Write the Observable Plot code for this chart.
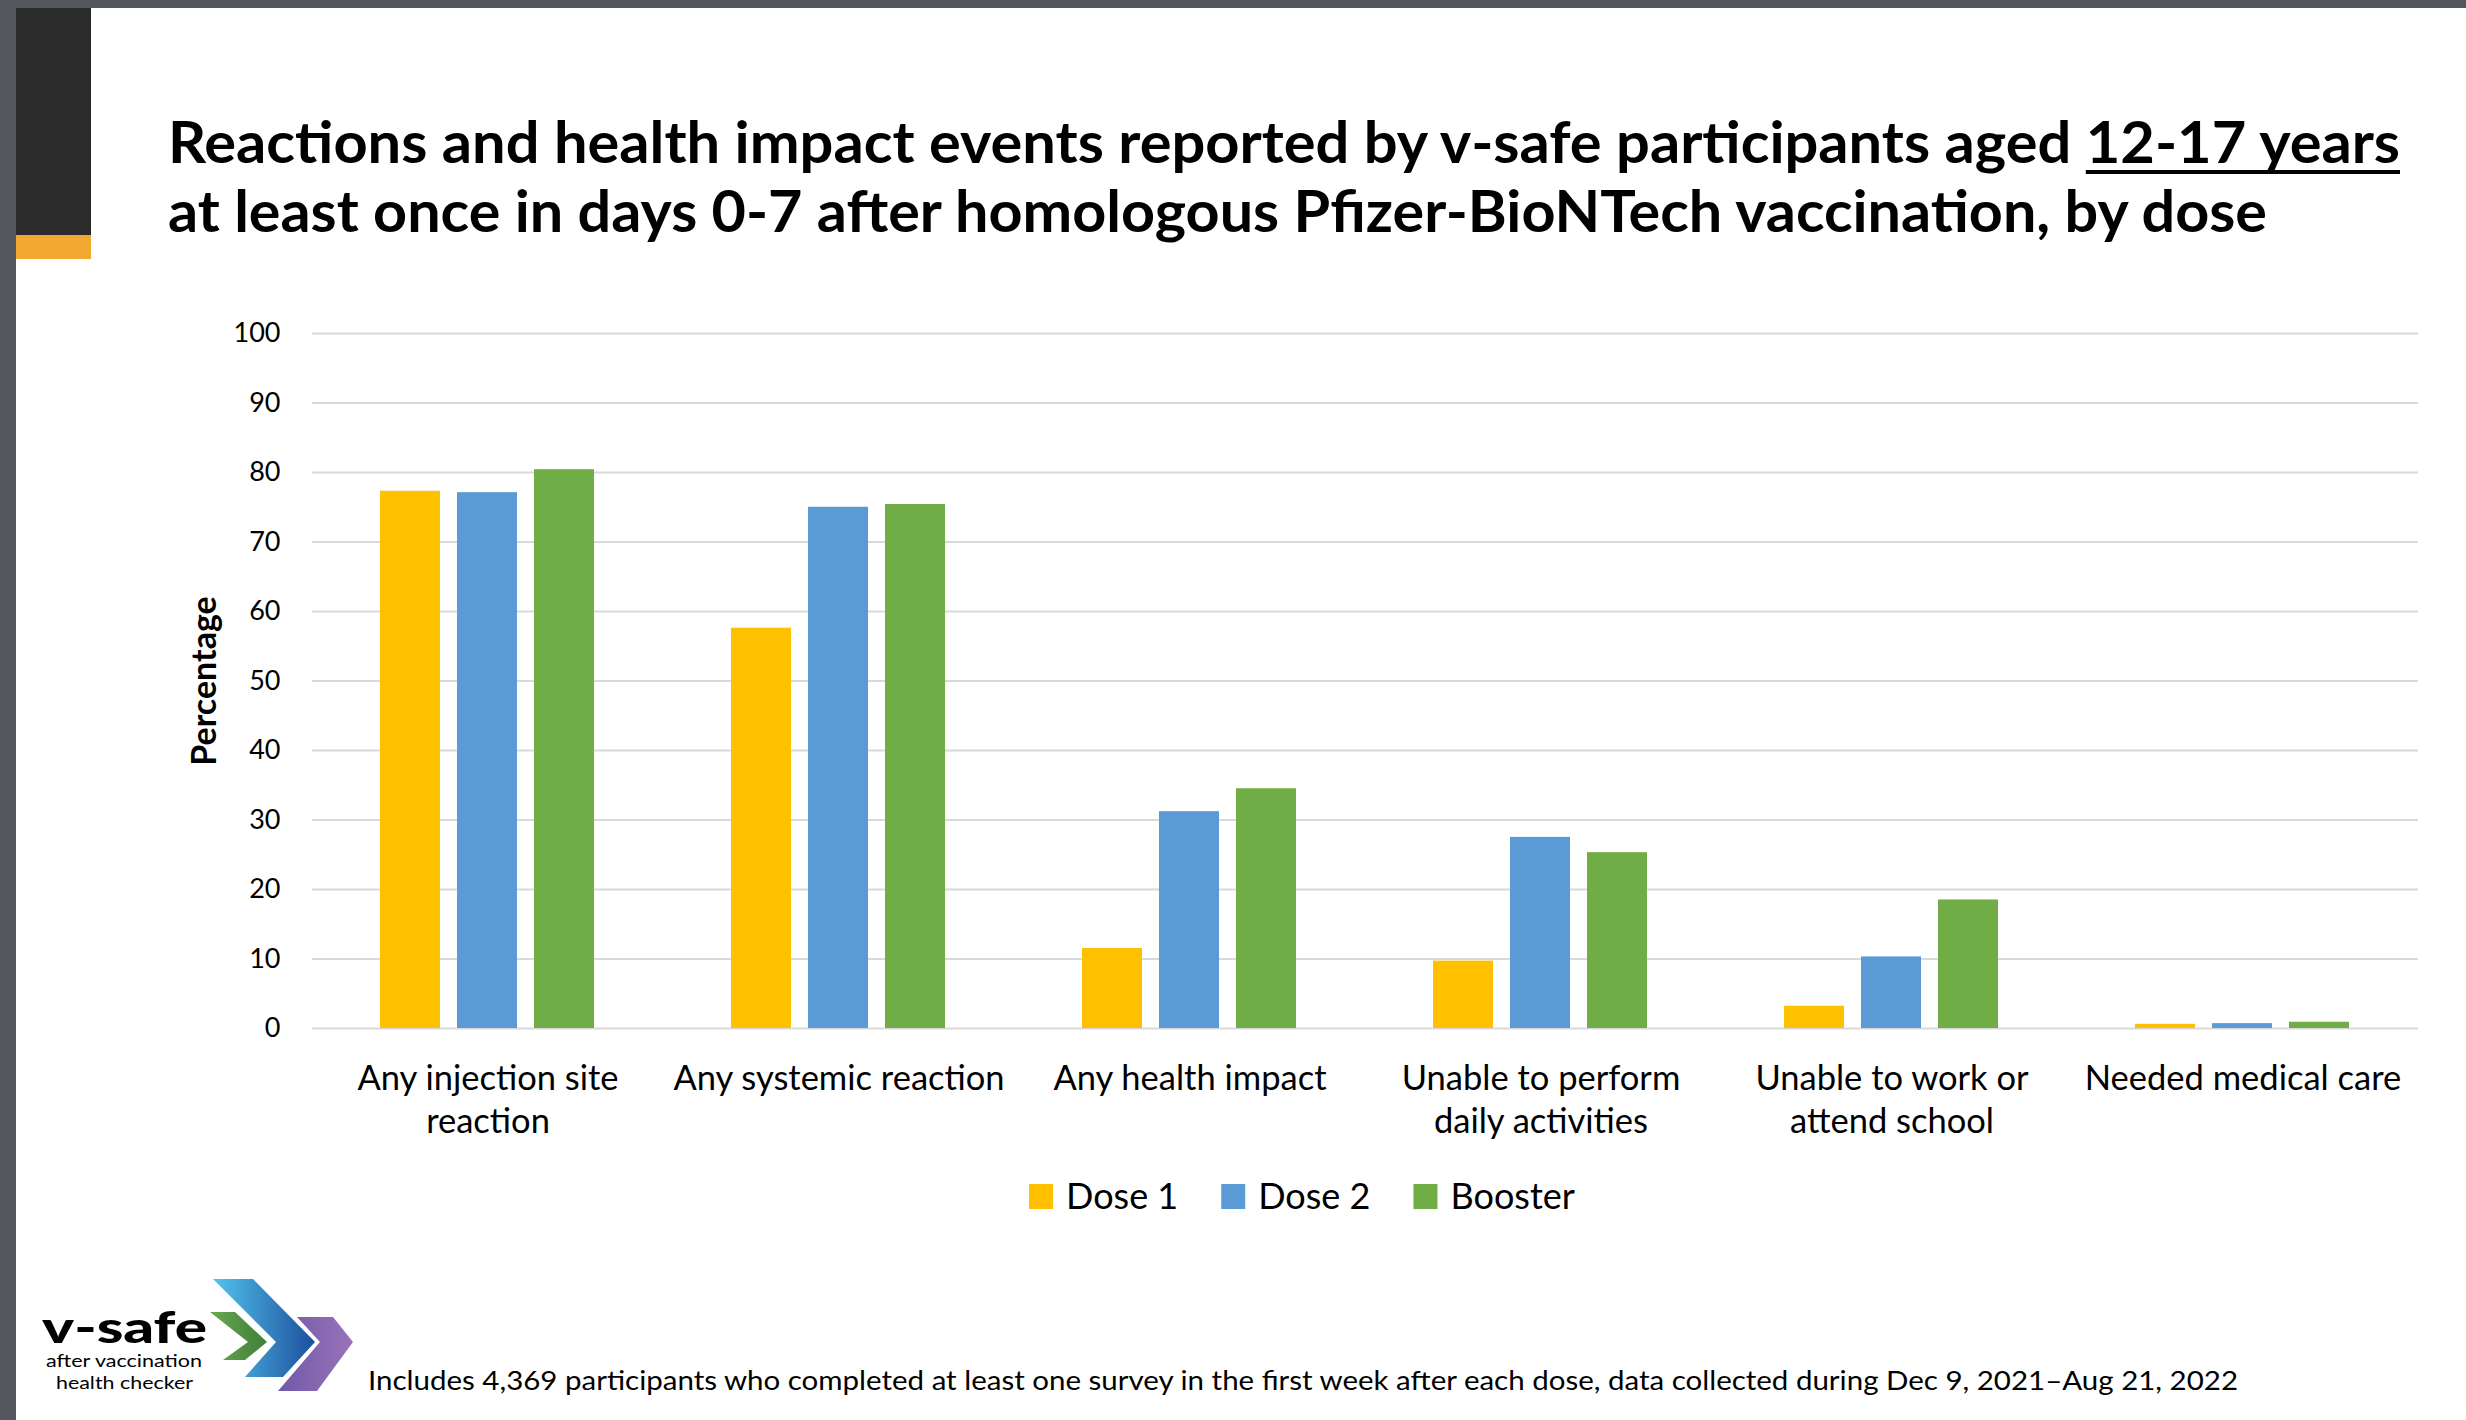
<!DOCTYPE html>
<html><head><meta charset="utf-8">
<script src="https://cdn.jsdelivr.net/npm/d3@7"></script>
<script src="https://cdn.jsdelivr.net/npm/@observablehq/plot@0.6"></script>
<style>
html,body{margin:0;padding:0;background:#fff;}
#page{position:relative;width:2466px;height:1420px;overflow:hidden;background:#fff;font-family:Lato,sans-serif;}
#deco{position:absolute;left:0;top:0;}
#chart{position:absolute;left:0;top:280px;}
</style></head>
<body>
<div id="page">
<svg id="deco" width="2466" height="1420" xmlns="http://www.w3.org/2000/svg"></svg>
<div id="chart"></div>
</div>
<script>
// ---- data ----
const categories = [
  "Any injection site reaction",
  "Any systemic reaction",
  "Any health impact",
  "Unable to perform daily activities",
  "Unable to work or attend school",
  "Needed medical care"
];
const tickLabels = [
  "Any injection site\nreaction",
  "Any systemic reaction",
  "Any health impact",
  "Unable to perform\ndaily activities",
  "Unable to work or\nattend school",
  "Needed medical care"
];
const doses = ["Dose 1", "Dose 2", "Booster"];
const dose1 = [77.3, 57.6, 11.5, 9.7, 3.2, 0.6];
const dose2 = [77.1, 75.0, 31.2, 27.5, 10.3, 0.7];
const booster = [80.4, 75.4, 34.5, 25.3, 18.5, 0.9];
const yTicks = [0, 10, 20, 30, 40, 50, 60, 70, 80, 90, 100];
const colors = ["#FFC000", "#5B9BD5", "#70AD47"];
const titleLine1 = "Reactions and health impact events reported by v-safe participants aged ";
const titleUnderlined = "12-17 years";
const titleLine2 = "at least once in days 0-7 after homologous Pfizer-BioNTech vaccination, by dose";
const yLabel = "Percentage";
const footnote = "Includes 4,369 participants who completed at least one survey in the first week after each dose, data collected during Dec 9, 2021\u2013Aug 21, 2022";

// ---- chart ----
const series = [dose1, dose2, booster];
const data = categories.flatMap((c, i) => doses.map((d, j) => ({category: c, dose: d, value: series[j][i]})));

const chart = Plot.plot({
  width: 2466,
  height: 870,
  marginLeft: 310,
  marginRight: 47,
  marginTop: 53,
  marginBottom: 122,
  style: {fontFamily: "Lato, sans-serif", color: "#000", background: "transparent", overflow: "visible"},
  fx: {domain: categories, padding: 0, label: null, axis: null},
  x: {domain: doses, paddingInner: 0.216, paddingOuter: 0.867, axis: null},
  y: {domain: [0, 100], axis: null},
  color: {domain: doses, range: colors},
  marks: [
    Plot.gridY(yTicks, {stroke: "#d9d9d9", strokeOpacity: 1, strokeWidth: 2}),
    Plot.barY(data, {fx: "category", x: "dose", y: "value", fill: "dose"}),
    Plot.axisY(yTicks, {anchor: "left", tickSize: 0, tickPadding: 32, fontSize: 27, label: null, fill: "#000"}),
    Plot.text(categories, {fx: d => d, text: d => tickLabels[categories.indexOf(d)],
      frameAnchor: "bottom", lineAnchor: "top", textAnchor: "middle", dy: 31,
      lineHeight: 1.24, fontSize: 34.5, fill: "#000"}),
    Plot.text([yLabel], {frameAnchor: "left", facetAnchor: "left", rotate: -90, dx: -107,
      textAnchor: "middle", lineAnchor: "middle",
      fontSize: 34, fontWeight: "bold", fill: "#000"})
  ]
});
document.getElementById("chart").appendChild(chart);

// ---- decorations, title, legend, footnote ----
const NS = "http://www.w3.org/2000/svg";
const deco = document.getElementById("deco");
function el(tag, attrs, parent = deco) {
  const e = document.createElementNS(NS, tag);
  for (const k in attrs) e.setAttribute(k, attrs[k]);
  parent.appendChild(e);
  return e;
}
// frame
el("rect", {x: 0, y: 0, width: 2466, height: 8, fill: "#54575c"});
el("rect", {x: 0, y: 0, width: 16, height: 1420, fill: "#54575c"});
el("rect", {x: 16, y: 8, width: 75, height: 227, fill: "#2b2b2b"});
el("rect", {x: 16, y: 235, width: 75, height: 24, fill: "#f2a830"});

// title
const t1 = el("text", {x: 168, y: 163, "font-family": "Lato, sans-serif", "font-size": 58, "font-weight": 700,
  fill: "#000", textLength: 2232, lengthAdjust: "spacingAndGlyphs"});
t1.appendChild(document.createTextNode(titleLine1));
const ts = el("tspan", {}, t1);
ts.textContent = titleUnderlined;
const startIdx = titleLine1.length;
const endIdx = titleLine1.length + titleUnderlined.length - 1;
const ux0 = t1.getStartPositionOfChar(startIdx).x;
const ux1 = t1.getEndPositionOfChar(endIdx).x;
el("rect", {x: ux0, y: 170, width: ux1 - ux0, height: 4, fill: "#000"});
const t2 = el("text", {x: 168, y: 231.7, "font-family": "Lato, sans-serif", "font-size": 58, "font-weight": 700,
  fill: "#000", textLength: 2099, lengthAdjust: "spacingAndGlyphs"});
t2.textContent = titleLine2;

// legend
let lx = 1029;
doses.forEach((d, i) => {
  el("rect", {x: lx, y: 1184, width: 24, height: 25, fill: colors[i]});
  const t = el("text", {x: lx + 37, y: 1208.6, "font-family": "Lato, sans-serif", "font-size": 36, fill: "#000"});
  t.textContent = d;
  lx += 37 + t.getComputedTextLength() + 43;
});

// footnote
const fn = el("text", {x: 368, y: 1390, "font-family": "Lato, sans-serif", "font-size": 26.5, fill: "#000",
  textLength: 1870, lengthAdjust: "spacingAndGlyphs"});
fn.textContent = footnote;

// logo
const defs = el("defs", {});
function grad(id, c0, c1) {
  const g = el("linearGradient", {id, x1: 0, y1: 0, x2: 1, y2: 0}, defs);
  el("stop", {offset: 0, "stop-color": c0}, g);
  el("stop", {offset: 1, "stop-color": c1}, g);
}
grad("gG", "#6aa84f", "#3f7f3a");
grad("gB", "#52c3ef", "#1c4f9c");
grad("gP", "#6f5aa8", "#9a72b8");
el("polygon", {points: "210,1312 235,1312 267,1342 245,1360 223,1360 248,1342", fill: "url(#gG)"});
el("polygon", {points: "213,1279 253,1279 315,1342 283,1377 245,1377 276,1342", fill: "url(#gB)"});
el("polygon", {points: "297,1317 333,1317 353,1342 317,1391 278,1391 320,1342", fill: "url(#gP)"});
const vs = el("text", {x: 42, y: 1343, "font-family": "Lato, sans-serif", "font-size": 44, "font-weight": 900,
  fill: "#000", textLength: 165, lengthAdjust: "spacingAndGlyphs"});
vs.textContent = "v-safe";
const a1 = el("text", {x: 46, y: 1367, "font-family": "Lato, sans-serif", "font-size": 18, fill: "#000",
  textLength: 156, lengthAdjust: "spacingAndGlyphs"});
a1.textContent = "after vaccination";
const a2 = el("text", {x: 56, y: 1389, "font-family": "Lato, sans-serif", "font-size": 18, fill: "#000",
  textLength: 137, lengthAdjust: "spacingAndGlyphs"});
a2.textContent = "health checker";
</script>
</body></html>
